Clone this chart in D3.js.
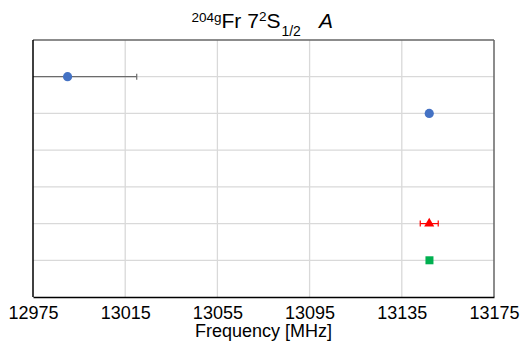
<!DOCTYPE html>
<html>
<head>
<meta charset="utf-8">
<script src="https://cdn.jsdelivr.net/npm/d3@7"></script>
<style>
  html, body { margin: 0; padding: 0; background: #fff; }
  svg { display: block; font-family: "Liberation Sans", Arial, sans-serif; }
</style>
</head>
<body>
<svg id="chart" width="523" height="345"></svg>
<script>
// Axis ticks (MHz)
const xTicks = [12975, 13015, 13055, 13095, 13135, 13175];
// Measurement rows, counted from the top of the plot
const rows = [1, 2, 3, 4, 5, 6];
// Measurements: row, value, uncertainty, marker shape
const rowIndex = [1, 2, 5, 6];
const values = [12990.0, 13146.9, 13146.9, 13147.0];
const errors = [30.0, 0, 3.9, 0];
const shapes = ["circle", "circle", "triangle", "square"];
const colors = ["#4472c4", "#4472c4", "#ff0000", "#00b050"];

const margin = { left: 33, right: 29, top: 40, bottom: 48 };
const W = 523, H = 345;
const svg = d3.select("#chart");

const x = d3.scaleLinear().domain([12975, 13175]).range([margin.left, W - margin.right]);
const y = d3.scaleLinear().domain([0, 7]).range([margin.top, H - margin.bottom]);

const [x0, x1] = x.range();
const [y0, y1] = y.range();

svg.append("defs").append("clipPath").attr("id", "plot")
  .append("rect").attr("x", x0).attr("y", y0).attr("width", x1 - x0).attr("height", y1 - y0);

// Grid
svg.append("g").selectAll("line").data(xTicks.slice(1, -1)).join("line")
  .attr("x1", d => x(d)).attr("x2", d => x(d)).attr("y1", y0).attr("y2", y1)
  .attr("stroke", "#d9d9d9").attr("stroke-width", 1.3);
svg.append("g").selectAll("line").data(rows).join("line")
  .attr("x1", x0).attr("x2", x1).attr("y1", d => y(d)).attr("y2", d => y(d))
  .attr("stroke", "#d9d9d9").attr("stroke-width", 1.3);

// Frame: top/right in gray, left/bottom in black
svg.append("line").attr("x1", x0).attr("x2", x1).attr("y1", y0).attr("y2", y0)
  .attr("stroke", "#666").attr("stroke-width", 1.5);
svg.append("line").attr("x1", x1).attr("x2", x1).attr("y1", y0).attr("y2", y1)
  .attr("stroke", "#666").attr("stroke-width", 1.5);

const data = values.map((v, i) => ({ row: rowIndex[i], v, e: errors[i], shape: shapes[i], color: colors[i] }));

// Error bars
const eg = svg.append("g").attr("clip-path", "url(#plot)");
data.filter(d => d.e > 0).forEach(d => {
  const yy = y(d.row);
  const stroke = d.shape === "triangle" ? d.color : "#6b6b6b";
  eg.append("line").attr("x1", x(d.v - d.e)).attr("x2", x(d.v + d.e))
    .attr("y1", yy).attr("y2", yy).attr("stroke", stroke).attr("stroke-width", 1.2);
  [d.v - d.e, d.v + d.e].forEach(t => {
    eg.append("line").attr("x1", x(t)).attr("x2", x(t))
      .attr("y1", yy - 3).attr("y2", yy + 3).attr("stroke", stroke).attr("stroke-width", 1.2);
  });
});

// Markers
const mg = svg.append("g");
data.forEach(d => {
  const cx = x(d.v), cy = y(d.row);
  if (d.shape === "circle") {
    mg.append("circle").attr("cx", cx).attr("cy", cy).attr("r", 4.6).attr("fill", d.color);
  } else if (d.shape === "triangle") {
    mg.append("path").attr("d", d3.symbol(d3.symbolTriangle, 44)())
      .attr("transform", `translate(${cx},${cy})`).attr("fill", d.color);
  } else {
    mg.append("rect").attr("x", cx - 4).attr("y", cy - 4).attr("width", 8).attr("height", 8)
      .attr("fill", d.color);
  }
});

// Axes
const xAxis = svg.append("g").attr("transform", `translate(0,${y1})`)
  .call(d3.axisBottom(x).tickValues(xTicks).tickSize(0).tickPadding(9).tickFormat(d3.format("d")));
xAxis.select(".domain").attr("stroke", "#000").attr("stroke-width", 1.5);
xAxis.selectAll("text").attr("font-size", 18).attr("fill", "#000")
  .attr("font-family", "Liberation Sans, Arial, sans-serif");

svg.append("line").attr("x1", x0).attr("x2", x0).attr("y1", y0).attr("y2", y1)
  .attr("stroke", "#000").attr("stroke-width", 1.5);

// Axis title
svg.append("text").attr("x", (x0 + x1) / 2).attr("y", 337).attr("text-anchor", "middle")
  .attr("font-size", 18).text("Frequency [MHz]");

// Chart title: 204gFr 7²S1/2 A
const title = svg.append("text").attr("font-size", 21).attr("x", 191.5).attr("y", 21.5);
title.append("tspan").attr("font-size", 13.5).text("204g");
title.append("tspan").attr("dy", 6).text("Fr 7");
title.append("tspan").attr("dy", -6.5).attr("font-size", 13.5).text("2");
title.append("tspan").attr("dy", 6.5).text("S");
title.append("tspan").attr("dy", 8.5).attr("dx", 1).attr("font-size", 14).text("1/2");
title.append("tspan").attr("x", 319).attr("y", 27.5).attr("font-style", "italic").text("A");
</script>
</body>
</html>
